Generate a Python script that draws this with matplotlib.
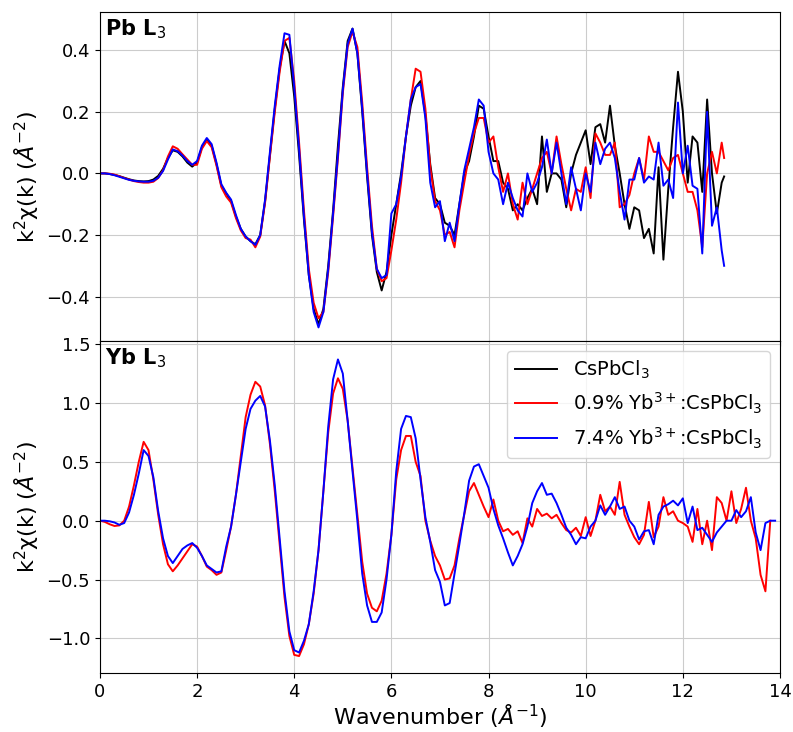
import numpy as np
import matplotlib
matplotlib.use("Agg")
import matplotlib.pyplot as plt

# Pb L3 edge, k grid 0 .. 12.8 step 0.1 plus last point
k_pb = np.r_[np.round(np.arange(0, 12.81, 0.1), 2), 12.85]

pb_cspbcl3 = [0, 0, -0.002, -0.005, -0.009, -0.014, -0.019, -0.023, -0.025, -0.026,
              -0.025, -0.02, -0.008, 0.015, 0.05, 0.075, 0.07, 0.055, 0.035, 0.022,
              0.035, 0.085, 0.11, 0.09, 0.03, -0.04, -0.065, -0.09, -0.14, -0.18,
              -0.205, -0.22, -0.23, -0.2, -0.09, 0.06, 0.21, 0.34, 0.43, 0.39,
              0.25, 0.06, -0.15, -0.33, -0.44, -0.49, -0.44, -0.3, -0.12, 0.09,
              0.28, 0.43, 0.47, 0.39, 0.2, -0.01, -0.2, -0.32, -0.38, -0.32,
              -0.2, -0.1, 0.0, 0.12, 0.22, 0.28, 0.3, 0.19, 0.03, -0.08,
              -0.1, -0.16, -0.17, -0.2, -0.1, 0.0, 0.04, 0.12, 0.22, 0.21,
              0.12, 0.04, 0.04, -0.03, -0.05, -0.12, -0.1, -0.12, -0.08, -0.05,
              -0.1, 0.12, -0.06, 0.0, 0.0, -0.02, -0.11, 0.0, 0.06, 0.1,
              0.14, 0.03, 0.15, 0.16, 0.1, 0.22, 0.09, 0.0, -0.1, -0.18,
              -0.11, -0.12, -0.21, -0.18, -0.26, 0.02, -0.28, -0.05, 0.15, 0.33,
              0.2, -0.03, 0.12, 0.1, -0.06, 0.24, 0.0, -0.13, -0.03, -0.01]

pb_yb09 = [0, 0, -0.001, -0.004, -0.009, -0.015, -0.02, -0.025, -0.028, -0.03,
           -0.03, -0.027, -0.015, 0.01, 0.055, 0.088, 0.08, 0.062, 0.045, 0.028,
           0.028, 0.08, 0.105, 0.085, 0.025, -0.045, -0.075, -0.095, -0.145, -0.185,
           -0.21, -0.215, -0.24, -0.205, -0.095, 0.055, 0.2, 0.33, 0.43, 0.44,
           0.3, 0.1, -0.12, -0.31, -0.42, -0.47, -0.45, -0.32, -0.14, 0.05,
           0.26, 0.41, 0.46, 0.41, 0.23, 0.02, -0.17, -0.31, -0.35, -0.34,
           -0.25, -0.15, -0.03, 0.12, 0.24, 0.34, 0.33, 0.21, 0.02, -0.09,
           -0.12, -0.2, -0.19, -0.24, -0.12, -0.03, 0.06, 0.13, 0.18, 0.18,
           0.1, 0.12, 0.02, -0.06, 0.0, -0.1, -0.15, -0.03, -0.1, -0.05,
           0.0, 0.05, 0.07, 0.0, 0.12, 0.03, -0.05, -0.12, -0.05, -0.06,
           0.02, -0.08, 0.13, 0.1, 0.06, 0.06, 0.1, -0.11, -0.1, -0.07,
           0.0, 0.05, -0.02, 0.12, 0.07, 0.07, 0.04, 0.01, 0.05, 0.06,
           0.0, -0.06, -0.06, -0.12, -0.24, 0.0, 0.07, 0.0, 0.1, 0.05]

pb_yb74 = [0, 0, -0.002, -0.006, -0.011, -0.016, -0.021, -0.024, -0.026, -0.027,
           -0.027, -0.024, -0.014, 0.008, 0.045, 0.078, 0.072, 0.058, 0.04, 0.028,
           0.04, 0.09, 0.115, 0.095, 0.035, -0.035, -0.063, -0.085, -0.135, -0.18,
           -0.205, -0.22, -0.232, -0.2, -0.085, 0.07, 0.22, 0.35, 0.455, 0.45,
           0.28, 0.08, -0.14, -0.33, -0.45, -0.5, -0.45, -0.31, -0.13, 0.06,
           0.27, 0.42, 0.47, 0.39, 0.21, 0.0, -0.19, -0.31, -0.34, -0.33,
           -0.13, -0.1, -0.01, 0.12, 0.24, 0.28, 0.29, 0.18, -0.03, -0.11,
           -0.09, -0.22, -0.16, -0.22, -0.1, 0.01, 0.08, 0.15, 0.24, 0.22,
           0.07, 0.0, -0.02, -0.1, -0.03, -0.08, -0.12, -0.14, 0.0, -0.06,
           -0.03, 0.02, 0.11, 0.0, 0.1, 0.0, -0.1, 0.02, -0.05, -0.12,
           0.0, -0.06, 0.1, 0.03, 0.08, 0.1, 0.05, -0.06, -0.15, -0.02,
           -0.02, 0.05, -0.03, -0.01, -0.02, 0.1, -0.04, -0.02, -0.08, 0.23,
           0.0, 0.09, -0.04, -0.05, -0.26, 0.2, -0.17, -0.11, -0.25, -0.3]

# Yb L3 edge, k grid 0 .. 13.9 step 0.1
k_yb = np.round(np.arange(0, 13.91, 0.1), 2)

yb_yb09 = [0.0, -0.01, -0.03, -0.045, -0.04, 0.0, 0.12, 0.3, 0.5, 0.67,
           0.6, 0.35, 0.05, -0.2, -0.37, -0.43, -0.38, -0.32, -0.26, -0.2,
           -0.22, -0.3, -0.39, -0.42, -0.46, -0.44, -0.25, -0.05, 0.22, 0.55,
           0.88, 1.07, 1.18, 1.14, 0.98, 0.65, 0.25, -0.2, -0.65, -0.98,
           -1.14, -1.15, -1.05, -0.88, -0.62, -0.25, 0.25, 0.75, 1.08, 1.21,
           1.12, 0.85, 0.45, 0.05, -0.35, -0.62, -0.74, -0.77, -0.68, -0.45,
           -0.12, 0.35, 0.6, 0.72, 0.72, 0.5, 0.38, 0.0, -0.17, -0.3,
           -0.38, -0.5, -0.49, -0.38, -0.15, 0.05, 0.25, 0.32, 0.22, 0.12,
           0.03, 0.18, 0.0, -0.09, -0.07, -0.12, -0.09, -0.19, 0.02, -0.05,
           0.1, 0.04, 0.06, 0.02, 0.05, -0.02, -0.08, -0.1, -0.06, -0.13,
           0.03, -0.13, 0.0, 0.22, 0.08, 0.12, 0.05, 0.33, 0.05, -0.05,
           -0.14, -0.2, -0.12, 0.16, -0.14, -0.05, 0.2, 0.05, 0.08, 0.0,
           -0.02, -0.05, -0.18, 0.1, -0.2, 0.0, -0.25, 0.2, 0.15, 0.0,
           0.25, -0.02, 0.1, 0.28, 0.0, -0.15, -0.46, -0.6, 0.0, np.nan]

yb_yb74 = [0.0, 0.0, -0.005, -0.015, -0.035, -0.02, 0.07, 0.22, 0.4, 0.6,
           0.55, 0.37, 0.08, -0.15, -0.3, -0.36, -0.3, -0.24, -0.21, -0.19,
           -0.23, -0.3, -0.38, -0.41, -0.44, -0.43, -0.22, -0.05, 0.22, 0.5,
           0.78, 0.95, 1.02, 1.06, 0.97, 0.68, 0.3, -0.15, -0.6, -0.94,
           -1.1, -1.12, -1.02, -0.88, -0.6, -0.25, 0.25, 0.8, 1.2, 1.37,
           1.25, 0.85, 0.42, 0.0, -0.45, -0.72, -0.86, -0.86, -0.78, -0.5,
           -0.12, 0.42, 0.78, 0.89, 0.88, 0.7, 0.35, 0.03, -0.18, -0.42,
           -0.52, -0.72, -0.7, -0.45, -0.2, 0.06, 0.34, 0.46, 0.48, 0.38,
           0.28, 0.1, -0.04, -0.15, -0.27, -0.38, -0.3, -0.2, -0.05, 0.15,
           0.25, 0.32, 0.22, 0.23, 0.15, 0.05, -0.06, -0.12, -0.2, -0.14,
           -0.15, -0.05, 0.0, 0.13, 0.05, 0.12, 0.2, 0.1, 0.12, 0.0,
           -0.05, -0.16, -0.09, -0.08, -0.2, 0.05, 0.12, 0.14, 0.17, 0.13,
           0.19, -0.02, 0.12, -0.08, -0.06, -0.12, -0.18, -0.1, -0.05, 0.0,
           0.0, 0.09, 0.03, 0.08, 0.2, -0.1, -0.25, -0.02, 0.0, 0.0]

labels = ['CsPbCl$_3$', '0.9% Yb$^{3+}$:CsPbCl$_3$', '7.4% Yb$^{3+}$:CsPbCl$_3$']
colors = ['k', 'r', 'b']

fig = plt.figure(figsize=(7.93, 7.32), dpi=100)
ax1 = fig.add_axes([0.126, 0.5342, 0.8576, 0.4494])
ax2 = fig.add_axes([0.126, 0.0806, 0.8576, 0.4536], sharex=ax1)

for y, c, lab in zip([pb_cspbcl3, pb_yb09, pb_yb74], colors, labels):
    ax1.plot(k_pb, y, color=c, lw=1.4, label=lab)

ax2.plot([], [], color='k', lw=1.4, label=labels[0])
ax2.plot(k_yb, yb_yb09, color='r', lw=1.4, label=labels[1])
ax2.plot(k_yb, yb_yb74, color='b', lw=1.4, label=labels[2])

ax1.set_ylim(-0.544, 0.524)
ax2.set_ylim(-1.294, 1.527)
ax1.set_xlim(0, 14)
ax2.set_xticks(np.arange(0, 15, 2))
ax1.set_yticks([-0.4, -0.2, 0.0, 0.2, 0.4])
ax2.set_yticks([-1.0, -0.5, 0.0, 0.5, 1.0, 1.5])

for ax in (ax1, ax2):
    ax.grid(True, color='#cccccc', lw=0.8)
    ax.tick_params(labelsize=13)
    ax.set_ylabel('k$^2$χ(k) ($Å^{-2}$)', fontsize=16)
plt.setp(ax1.get_xticklabels(), visible=False)

ax1.text(0.008, 0.985, 'Pb L$_3$', transform=ax1.transAxes, fontsize=15,
         fontweight='bold', va='top', ha='left')
ax2.text(0.008, 0.985, 'Yb L$_3$', transform=ax2.transAxes, fontsize=15,
         fontweight='bold', va='top', ha='left')

ax2.legend(loc='upper right', fontsize=14, handlelength=2.2)
ax2.set_xlabel('Wavenumber ($Å^{-1}$)', fontsize=16, labelpad=1)

fig.savefig('out.png', dpi=100)
